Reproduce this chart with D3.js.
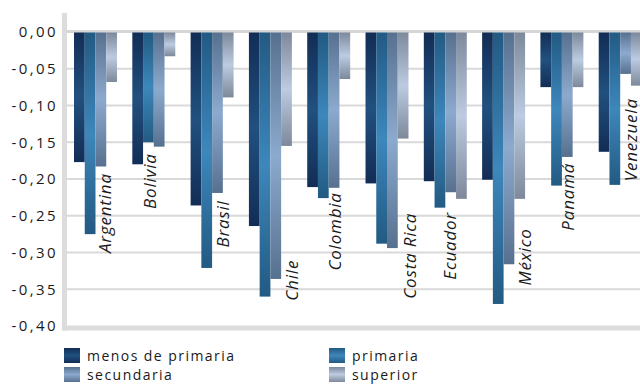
<!DOCTYPE html>
<html>
<head>
<meta charset="utf-8">
<script src="https://cdn.jsdelivr.net/npm/d3@7"></script>
<style>
  html, body { margin: 0; padding: 0; background: #fff; }
  svg { display: block; }
  text { font-family: "Open Sans", "DejaVu Sans", sans-serif; fill: #1a1a1a; }
</style>
</head>
<body>
<svg id="chart" width="640" height="384"></svg>
<script>
// Countries on the horizontal axis
const countries = ["Argentina", "Bolivia", "Brasil", "Chile", "Colombia",
                   "Costa Rica", "Ecuador", "México", "Panamá", "Venezuela"];

// Education levels (one bar per level within each country)
const levels = ["menos de primaria", "primaria", "secundaria", "superior"];

// Values per level, in country order
const menosDePrimaria = [-0.177, -0.180, -0.236, -0.264, -0.211, -0.206, -0.203, -0.201, -0.075, -0.163];
const primaria        = [-0.275, -0.150, -0.321, -0.360, -0.226, -0.288, -0.239, -0.370, -0.209, -0.208];
const secundaria      = [-0.183, -0.156, -0.219, -0.336, -0.212, -0.294, -0.218, -0.316, -0.170, -0.057];
const superior        = [-0.068, -0.033, -0.089, -0.155, -0.064, -0.145, -0.227, -0.227, -0.075, -0.073];

// Y axis tick values
const yTicks = [0, -0.05, -0.10, -0.15, -0.20, -0.25, -0.30, -0.35, -0.40];

const series = [menosDePrimaria, primaria, secundaria, superior];

// Gradient stops per level: [ends, middle]
const levelColors = [
  ["#122d55", "#21507f"],
  ["#225a83", "#3d87bb"],
  ["#57708f", "#8caace"],
  ["#7d899b", "#bccbe1"]
];

// Country label placement: horizontal offset inside the group (px) and
// the value where the upper end of the rotated label sits
const labelPlacement = [
  [31, -0.192], [18.2, -0.165], [32.2, -0.229], [43.5, -0.310], [28, -0.218],
  [44.2, -0.246], [25.9, -0.245], [42.5, -0.267], [27.5, -0.178], [32.5, -0.090]
];

const svg = d3.select("#chart");

const y = d3.scaleLinear().domain([0, -0.40]).range([32, 326]);

const x0 = d3.scaleBand()
  .domain(countries)
  .range([64.1, 651.6])
  .paddingInner(0.263)
  .paddingOuter(0.17);

const x1 = d3.scaleBand()
  .domain(levels)
  .range([0, x0.bandwidth()]);

const locale = d3.formatLocale({ decimal: ",", thousands: ".", grouping: [3], currency: ["", ""], minus: "-" });
const fmt = locale.format(".2f");

// Gradients (vertical: darker at both ends, lighter in the middle)
const defs = svg.append("defs");
levels.forEach((lv, i) => {
  const g = defs.append("linearGradient")
    .attr("id", "grad" + i)
    .attr("x1", 0).attr("y1", 0).attr("x2", 0).attr("y2", 1);
  g.append("stop").attr("offset", "0%").attr("stop-color", levelColors[i][0]);
  g.append("stop").attr("offset", "50%").attr("stop-color", levelColors[i][1]);
  g.append("stop").attr("offset", "100%").attr("stop-color", levelColors[i][0]);
});

// Horizontal grid lines
svg.append("g")
  .selectAll("line")
  .data(yTicks.slice(1, -1))
  .join("line")
  .attr("x1", 67).attr("x2", 640)
  .attr("y1", d => y(d)).attr("y2", d => y(d))
  .attr("stroke", "#d9d9d9")
  .attr("stroke-width", 2);

// Zero line
svg.append("line")
  .attr("x1", 67).attr("x2", 640)
  .attr("y1", y(0) - 0.5).attr("y2", y(0) - 0.5)
  .attr("stroke", "#d6d6d6")
  .attr("stroke-width", 3);

// Y axis labels
const yAxis = d3.axisLeft(y).tickValues(yTicks).tickFormat(fmt).tickSize(0).tickPadding(0);
const yAxisG = svg.append("g")
  .attr("transform", "translate(58,0)")
  .call(yAxis);
yAxisG.select(".domain").remove();
yAxisG.selectAll("text")
  .style("font-family", "'Open Sans', sans-serif")
  .style("font-size", "15px")
  .style("letter-spacing", "2.4px")
  .attr("fill", "#1a1a1a");

// Bars
const groups = svg.append("g")
  .selectAll("g")
  .data(countries)
  .join("g")
  .attr("transform", d => `translate(${x0(d)},0)`);

groups.selectAll("rect")
  .data((c, ci) => levels.map((lv, li) => ({ lv, li, v: series[li][ci] })))
  .join("rect")
  .attr("x", d => x1(d.lv))
  .attr("y", y(0) + 0.5)
  .attr("width", x1.bandwidth())
  .attr("height", d => y(d.v) - y(0) - 0.5)
  .attr("fill", d => `url(#grad${d.li})`);

// Axis frame: left and bottom thick gray lines
svg.append("line")
  .attr("x1", 64.5).attr("x2", 64.5)
  .attr("y1", 13).attr("y2", 330.5)
  .attr("stroke", "#dcdcdc")
  .attr("stroke-width", 5);
svg.append("line")
  .attr("x1", 62).attr("x2", 640)
  .attr("y1", 328).attr("y2", 328)
  .attr("stroke", "#dcdcdc")
  .attr("stroke-width", 5);

// Country labels, rotated
groups.append("text")
  .attr("transform", (c, i) =>
    `translate(${labelPlacement[i][0]},${y(labelPlacement[i][1])}) rotate(-90)`)
  .attr("text-anchor", "end")
  .attr("dy", "0.35em")
  .style("font-size", "17px")
  .style("font-style", "italic")
  .style("letter-spacing", "0.8px")
  .text(d => d);

// Legend
const legendItems = [
  { i: 0, x: 64, y: 348 },
  { i: 1, x: 329, y: 348 },
  { i: 2, x: 64, y: 367 },
  { i: 3, x: 329, y: 367 }
];
const lg = svg.append("g")
  .selectAll("g")
  .data(legendItems)
  .join("g")
  .attr("transform", d => `translate(${d.x},${d.y})`);
lg.append("rect")
  .attr("width", 16).attr("height", 15)
  .attr("fill", d => `url(#grad${d.i})`);
lg.append("text")
  .attr("x", 23).attr("y", 13)
  .style("font-size", "14px")
  .style("letter-spacing", "1.45px")
  .text(d => levels[d.i]);
</script>
</body>
</html>
